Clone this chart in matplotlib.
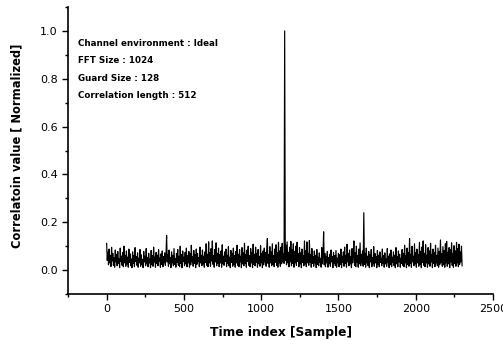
import numpy as np
import matplotlib
matplotlib.use("Agg")
import matplotlib.pyplot as plt
from matplotlib.ticker import MultipleLocator, FormatStrFormatter

# correlation output, one value every 4 samples
step = 4
corr = [
    0.112, 0.040, 0.075, 0.022, 0.088, 0.030, 0.060, 0.015, 0.095, 0.038, 0.070, 0.020, 0.052, 0.012, 0.084, 0.034,
    0.066, 0.018, 0.078, 0.028, 0.048, 0.010, 0.092, 0.036, 0.058, 0.020, 0.074, 0.014, 0.100, 0.030, 0.062, 0.016,
    0.080, 0.026, 0.054, 0.012, 0.088, 0.032, 0.068, 0.018, 0.046, 0.010, 0.076, 0.028, 0.060, 0.014, 0.094, 0.036,
    0.056, 0.020, 0.072, 0.012, 0.050, 0.030, 0.086, 0.016, 0.064, 0.024, 0.044, 0.010, 0.078, 0.034, 0.058, 0.018,
    0.090, 0.026, 0.052, 0.014, 0.070, 0.030, 0.048, 0.010, 0.082, 0.022, 0.060, 0.016, 0.096, 0.034, 0.054, 0.012,
    0.074, 0.028, 0.062, 0.018, 0.086, 0.036, 0.050, 0.012, 0.068, 0.024, 0.080, 0.014, 0.056, 0.030, 0.072, 0.020,
    0.060, 0.145, 0.034, 0.066, 0.016, 0.084, 0.026, 0.052, 0.010, 0.076, 0.030, 0.062, 0.018, 0.090, 0.024, 0.048,
    0.012, 0.070, 0.032, 0.086, 0.020, 0.058, 0.014, 0.100, 0.028, 0.064, 0.010, 0.080, 0.036, 0.054, 0.018, 0.074,
    0.026, 0.092, 0.014, 0.060, 0.030, 0.078, 0.012, 0.068, 0.022, 0.104, 0.034, 0.056, 0.016, 0.082, 0.028, 0.064,
    0.010, 0.088, 0.024, 0.070, 0.036, 0.052, 0.014, 0.096, 0.030, 0.062, 0.018, 0.084, 0.026, 0.058, 0.012, 0.076,
    0.032, 0.110, 0.020, 0.066, 0.014, 0.118, 0.030, 0.072, 0.016, 0.090, 0.038, 0.122, 0.024, 0.060, 0.012, 0.086,
    0.034, 0.114, 0.018, 0.070, 0.028, 0.092, 0.014, 0.064, 0.030, 0.080, 0.012, 0.106, 0.026, 0.058, 0.020, 0.076,
    0.036, 0.088, 0.014, 0.062, 0.028, 0.098, 0.018, 0.054, 0.010, 0.082, 0.032, 0.070, 0.016, 0.092, 0.024, 0.060,
    0.012, 0.078, 0.030, 0.104, 0.020, 0.066, 0.014, 0.086, 0.034, 0.058, 0.010, 0.094, 0.026, 0.072, 0.018, 0.112,
    0.028, 0.064, 0.012, 0.084, 0.036, 0.100, 0.020, 0.060, 0.014, 0.090, 0.030, 0.074, 0.010, 0.108, 0.024, 0.066,
    0.018, 0.096, 0.032, 0.070, 0.012, 0.086, 0.026, 0.056, 0.016, 0.102, 0.030, 0.068, 0.010, 0.080, 0.022, 0.092,
    0.034, 0.074, 0.016, 0.090, 0.132, 0.028, 0.064, 0.012, 0.098, 0.030, 0.076, 0.018, 0.110, 0.024, 0.060, 0.014,
    0.088, 0.032, 0.106, 0.020, 0.072, 0.012, 0.116, 0.030, 0.080, 0.016, 0.096, 0.026, 0.112, 0.034, 0.068, 0.028,
    1.000, 0.040, 0.104, 0.022, 0.118, 0.030, 0.074, 0.014, 0.096, 0.034, 0.120, 0.018, 0.086, 0.028, 0.110, 0.012,
    0.078, 0.030, 0.100, 0.020, 0.116, 0.036, 0.068, 0.014, 0.094, 0.026, 0.072, 0.010, 0.088, 0.032, 0.060, 0.018,
    0.122, 0.026, 0.082, 0.014, 0.118, 0.030, 0.070, 0.020, 0.124, 0.034, 0.064, 0.012, 0.090, 0.028, 0.056, 0.016,
    0.080, 0.030, 0.062, 0.010, 0.086, 0.024, 0.054, 0.018, 0.072, 0.032, 0.048, 0.012, 0.094, 0.026, 0.060, 0.160,
    0.022, 0.070, 0.014, 0.058, 0.030, 0.078, 0.012, 0.052, 0.026, 0.066, 0.016, 0.084, 0.034, 0.056, 0.010, 0.074,
    0.028, 0.060, 0.018, 0.082, 0.012, 0.050, 0.030, 0.070, 0.014, 0.064, 0.024, 0.088, 0.010, 0.058, 0.032, 0.076,
    0.016, 0.096, 0.028, 0.062, 0.012, 0.108, 0.034, 0.070, 0.018, 0.084, 0.026, 0.056, 0.010, 0.090, 0.030, 0.068,
    0.122, 0.020, 0.074, 0.014, 0.100, 0.032, 0.060, 0.012, 0.088, 0.026, 0.114, 0.018, 0.066, 0.030, 0.080, 0.016,
    0.240, 0.024, 0.070, 0.012, 0.092, 0.030, 0.058, 0.018, 0.078, 0.010, 0.064, 0.034, 0.086, 0.014, 0.052, 0.026,
    0.098, 0.016, 0.070, 0.030, 0.056, 0.010, 0.082, 0.024, 0.062, 0.014, 0.076, 0.032, 0.050, 0.018, 0.088, 0.028,
    0.060, 0.012, 0.072, 0.026, 0.048, 0.016, 0.090, 0.030, 0.058, 0.010, 0.068, 0.022, 0.084, 0.014, 0.054, 0.032,
    0.076, 0.018, 0.062, 0.010, 0.094, 0.026, 0.056, 0.014, 0.080, 0.034, 0.066, 0.012, 0.050, 0.028, 0.086, 0.020,
    0.070, 0.014, 0.104, 0.030, 0.060, 0.010, 0.092, 0.024, 0.074, 0.016, 0.132, 0.028, 0.066, 0.012, 0.100, 0.034,
    0.058, 0.018, 0.110, 0.026, 0.072, 0.012, 0.088, 0.030, 0.064, 0.016, 0.116, 0.024, 0.078, 0.010, 0.096, 0.032,
    0.122, 0.020, 0.070, 0.014, 0.106, 0.030, 0.062, 0.012, 0.094, 0.026, 0.080, 0.016, 0.112, 0.034, 0.066, 0.010,
    0.088, 0.028, 0.074, 0.014, 0.104, 0.030, 0.060, 0.018, 0.092, 0.012, 0.078, 0.024, 0.126, 0.032, 0.068, 0.016,
    0.098, 0.022, 0.082, 0.012, 0.110, 0.030, 0.120, 0.016, 0.074, 0.026, 0.094, 0.010, 0.086, 0.034, 0.114, 0.020,
    0.070, 0.012, 0.102, 0.028, 0.080, 0.016, 0.116, 0.030, 0.090, 0.014, 0.108, 0.024, 0.076, 0.034, 0.100, 0.018,
]
info_lines = ["Channel environment : Ideal", "FFT Size : 1024",
              "Guard Size : 128", "Correlation length : 512"]

t = np.arange(len(corr)) * step

plt.rcParams['font.family'] = ['DejaVu Sans']
fig = plt.figure(figsize=(5.03, 3.41), dpi=100)
ax = fig.add_axes([68/503, 1-294/341, (493-68)/503, (294-7)/341])

ax.plot(t, corr, color='black', lw=0.85)

ax.set_xlim(-250, 2500)
ax.set_ylim(-0.1, 1.1)
ax.set_xticks([0, 500, 1000, 1500, 2000, 2500])
ax.xaxis.set_minor_locator(MultipleLocator(250))
ax.yaxis.set_major_locator(MultipleLocator(0.2))
ax.yaxis.set_minor_locator(MultipleLocator(0.1))
ax.yaxis.set_major_formatter(FormatStrFormatter('%.1f'))

for s in ['top', 'right']:
    ax.spines[s].set_visible(False)
for s in ['left', 'bottom']:
    ax.spines[s].set_linewidth(1.2)
ax.tick_params(which='major', direction='out', length=4, width=1, labelsize=8)
ax.tick_params(which='minor', direction='out', length=2, width=1)

ax.set_xlabel('Time index [Sample]', fontsize=8.8, fontweight='bold', labelpad=8)
ax.set_ylabel('Correlatoin value [ Normalized]', fontsize=8.3, fontweight='bold')
ax.yaxis.set_label_coords(-0.106, 0.517)

for i, line in enumerate(info_lines):
    ax.text(0.024, 0.8735 - i*0.061, line, transform=ax.transAxes,
            fontsize=6.3, fontweight='bold', va='center', ha='left')

fig.savefig('out.png', dpi=100)
